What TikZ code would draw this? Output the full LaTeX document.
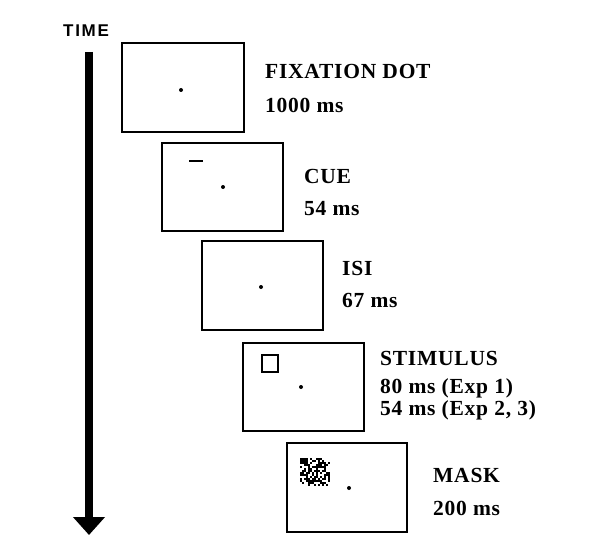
\documentclass[tikz,border=0pt]{standalone}
\usepackage{fontspec}
\setmainfont{Liberation Serif}
\newfontfamily\labelfont[LetterSpace=3.5]{Liberation Serif}
\newfontfamily\timefont[LetterSpace=10]{Liberation Sans}
\usetikzlibrary{arrows.meta}
\tikzset{screen/.style={line width=1.7pt},
  lbl/.style={anchor=base west,inner sep=0pt,font=\labelfont\bfseries\fontsize{21.5}{24}\selectfont}}

\begin{document}
\begin{tikzpicture}[x=1pt,y=-1pt]
\useasboundingbox (0,0) rectangle (592,551);
% time axis
\node (time) at (63,37) [anchor=base west,inner sep=0pt,font=\timefont\bfseries\fontsize{17}{20}\selectfont]{TIME};
\draw[line width=8pt,-{Triangle[width=31pt,length=18pt]}](89,52)--(89,535);
% screens
\draw[screen](122,43) rectangle (244,132);
\fill (181,90) circle (2);
\draw[screen](162,143) rectangle (283,231);
\draw[line width=1.7pt](189,161)--(203,161);
\fill (223,187) circle (2);
\draw[screen](202,241) rectangle (323,330);
\fill (261,287) circle (2);
\draw[screen](243,343) rectangle (364,431);
\draw[line width=1.7pt](262,355) rectangle (278,372);
\fill (301,387) circle (2);
\draw[screen](287,443) rectangle (407,532);
\pgfmathsetseed{12}
\foreach \i in {0,...,14}{\foreach \j in {0,...,13}{
  \pgfmathtruncatemacro\on{rnd<0.62?1:0}
  \ifnum\on=1 \fill (300+2*\i,458+2*\j) rectangle ++(2,2);\fi}}
\fill (349,488) circle (2);
% labels
\node (fix) at (265,78) [lbl]{FIXATION DOT};
\node (fixt) at (265,113) [lbl]{1000 ms};
\node (cue) at (304,183) [lbl]{CUE};
\node (cuet) at (304,215) [lbl]{54 ms};
\node (isi) at (342,275) [lbl]{ISI};
\node (isit) at (342,307) [lbl]{67 ms};
\node (stim) at (380,365) [lbl]{STIMULUS};
\node (stima) at (380,393) [lbl]{80 ms (Exp 1)};
\node (stimb) at (380,415) [lbl]{54 ms (Exp 2, 3)};
\node (mask) at (433,482) [lbl]{MASK};
\node (maskt) at (433,515) [lbl]{200 ms};
\end{tikzpicture}
\end{document}
